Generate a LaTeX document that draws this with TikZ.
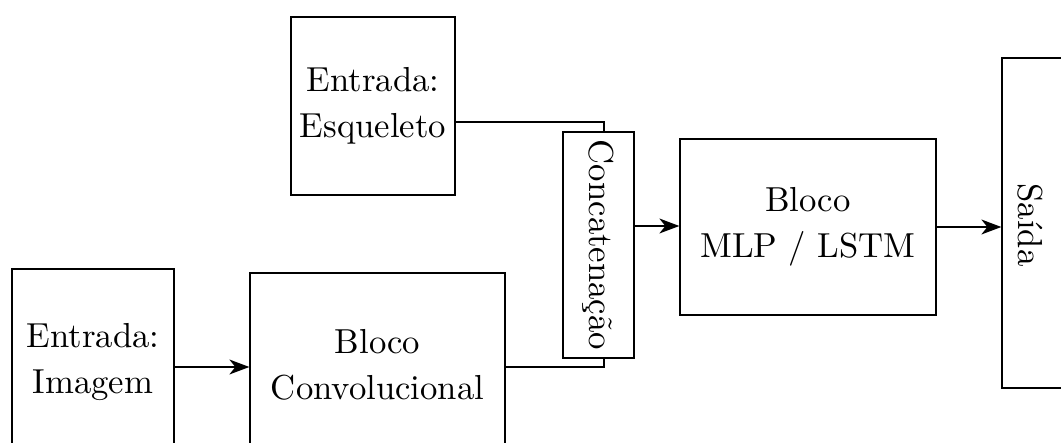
\documentclass[tikz,border=0pt]{standalone}
\usepackage{fontspec}
\setmainfont{lmroman10-regular.otf}
\usetikzlibrary{arrows.meta}
\begin{document}
\begin{tikzpicture}[x=1pt,y=-1pt,
  box/.style={draw,line width=1.3pt,inner sep=0pt,align=center,font=\fontsize{34.7}{46}\selectfont},
  lbl/.style={inner sep=0pt,font=\fontsize{34.7}{46}\selectfont},
  wire/.style={line width=1.3pt},
  arr/.style={line width=1.3pt,-{Stealth[length=20pt,width=15pt,inset=6pt]}}]
\useasboundingbox (0,0) rectangle (1061,443);
\clip (0,0) rectangle (1061,443);
\node[box,minimum width=164pt,minimum height=178pt] (esq) at (373,106) {Entrada:\\Esqueleto};
\node[box,minimum width=162pt,minimum height=186pt] (img) at (93,362) {Entrada:\\Imagem};
\node[box,minimum width=255pt,minimum height=184pt] (conv) at (377.5,365) {Bloco\\Convolucional};
\node[box,minimum width=71pt,minimum height=226pt] (cat) at (598.5,245) {};
\node[lbl,rotate=-90] (catl) at (cat.center) {Concatenação};
\node[box,minimum width=62pt,minimum height=330pt] (out) at (1033,223) {};
\node[box,minimum width=256pt,minimum height=176pt] (mlp) at (808,227) {Bloco\\MLP / LSTM};
\node[lbl,rotate=-90] (outl) at (1030,225) {Saída};
\coordinate (j1) at (604,122);
\coordinate (j2) at (604,367);
\coordinate (a1) at (0,367);
\coordinate (a2) at (0,226);
\draw[wire] (esq.east |- j1) -- (j1) -- (j1 |- cat.north);
\draw[wire] (conv.east |- j2) -- (j2) -- (j2 |- cat.south);
\draw[arr] (img.east |- a1) -- (conv.west |- a1);
\draw[arr] (cat.east |- a2) -- (mlp.west |- a2);
\draw[arr] (mlp.east) -- (mlp.east -| out.west);
\end{tikzpicture}
\end{document}
